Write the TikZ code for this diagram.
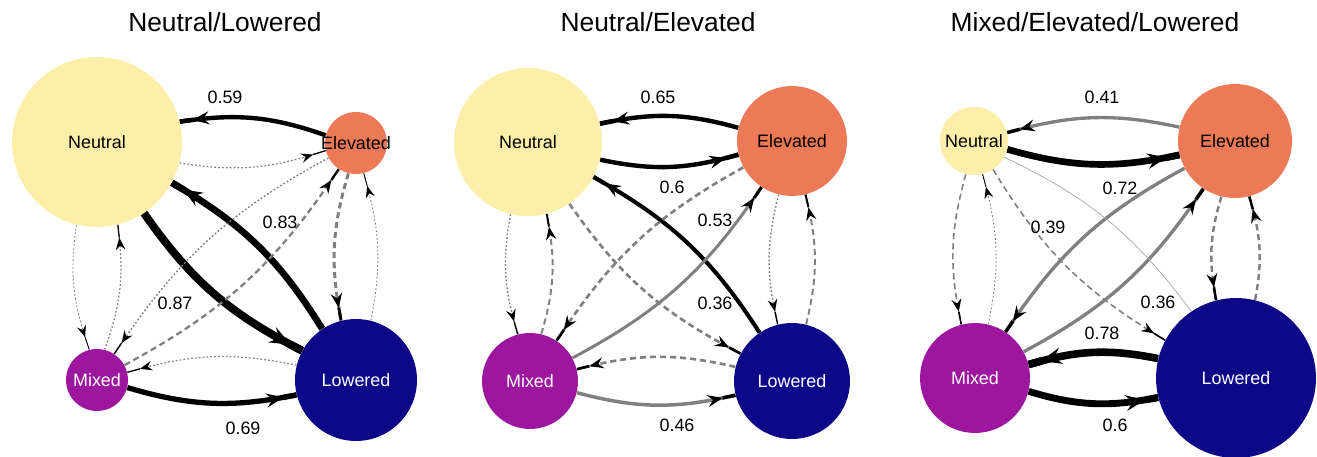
\documentclass[tikz,border=0pt]{standalone}
\usepackage{fontspec}
\setmainfont{Liberation Sans}
\usetikzlibrary{arrows.meta,decorations.markings}
\definecolor{neutralcol}{HTML}{FDEEA9}
\definecolor{elevatedcol}{HTML}{EC7A56}
\definecolor{mixedcol}{HTML}{9C179E}
\definecolor{loweredcol}{HTML}{0D0887}
\definecolor{edgegray}{HTML}{808080}

\tikzset{
  statenode/.style={circle, inner sep=0pt, minimum size=#1*0.04cm, font=\fontsize{10.2}{12}\selectfont},
  weight/.style={font=\fontsize{10.2}{12}\selectfont},
  paneltitle/.style={font=\fontsize{15}{18}\selectfont},
  trans/.style={bend right=14, postaction={decorate},
    decoration={markings, mark=at position -0.26cm with {%
      \arrow{Stealth[length=6pt 1.3, width=4.6pt 1.1, inset=2pt 0.5, color=black]}%
      \pgfpathmoveto{\pgfpointorigin}\pgfpathlineto{\pgfpoint{0.26cm}{0pt}}%
      \pgfsetdash{}{0pt}\pgfsetstrokecolor{black}\pgfusepath{stroke}}}},
  solidblack/.style={trans, draw=black},
  solidgray/.style={trans, draw=edgegray},
  dashgray/.style={trans, draw=edgegray, dash pattern=on 3.5pt off 2.2pt},
  dotgray/.style={trans, draw=edgegray, dash pattern=on 1pt off 1.2pt},
}

\begin{document}
\begin{tikzpicture}[x=0.02cm, y=0.02cm]
    \useasboundingbox (0,0) rectangle (1317,-456);

    % Titles
    \node[paneltitle] (title1) at (225,-22) {Neutral/Lowered};
    \node[paneltitle] (title2) at (658,-22) {Neutral/Elevated};
    \node[paneltitle] (title3) at (1095,-22) {Mixed/Elevated/Lowered};

    % Panel 1: Neutral/Lowered
    \node[statenode=85, fill=neutralcol] (neu1) at (97,-142) {Neutral};
    \node[statenode=31, fill=elevatedcol] (ele1) at (356,-143) {\makebox[0pt]{Elevated}};
    \node[statenode=31, fill=mixedcol, text=white] (mix1) at (97,-380) {Mixed};
    \node[statenode=61, fill=loweredcol, text=white] (low1) at (356,-380) {Lowered};

    \draw[solidblack, line width=2.5pt] (ele1) to (neu1);
    \draw[dotgray, line width=0.7pt] (neu1) to (ele1);
    \draw[solidblack, line width=4.5pt] (neu1) to (low1);
    \draw[solidblack, line width=3.8pt] (low1) to (neu1);
    \draw[dotgray, line width=0.5pt] (neu1) to (mix1);
    \draw[dotgray, line width=0.7pt] (mix1) to (neu1);
    \draw[dotgray, line width=0.8pt] (ele1) to (mix1);
    \draw[dashgray, line width=1.3pt] (mix1) to (ele1);
    \draw[dotgray, line width=0.7pt] (low1) to (mix1);
    \draw[solidblack, line width=3pt] (mix1) to (low1);
    \draw[dashgray, line width=1.7pt] (ele1) to (low1);
    \draw[dotgray, line width=0.5pt] (low1) to (ele1);

    \node[weight] (w1en) at (225,-97) {0.59};
    \node[weight] (w1ln) at (280,-222) {0.83};
    \node[weight] (w1nl) at (175,-303) {0.87};
    \node[weight] (w1ml) at (243,-428) {0.69};

    % Panel 2: Neutral/Elevated
    \node[statenode=74, fill=neutralcol] (neu2) at (528,-142) {Neutral};
    \node[statenode=55, fill=elevatedcol] (ele2) at (792,-141) {Elevated};
    \node[statenode=48, fill=mixedcol, text=white] (mix2) at (530,-381) {Mixed};
    \node[statenode=58, fill=loweredcol, text=white] (low2) at (792,-381) {Lowered};

    \draw[solidblack, line width=2.5pt] (ele2) to (neu2);
    \draw[solidblack, line width=2.5pt] (neu2) to (ele2);
    \draw[solidblack, line width=2.3pt] (low2) to (neu2);
    \draw[dashgray, line width=1.5pt] (neu2) to (low2);
    \draw[solidgray, line width=1.7pt] (mix2) to (ele2);
    \draw[dashgray, line width=1.5pt] (ele2) to (mix2);
    \draw[solidgray, line width=2pt] (mix2) to (low2);
    \draw[dashgray, line width=1.5pt] (low2) to (mix2);
    \draw[dotgray, line width=0.8pt] (neu2) to (mix2);
    \draw[dashgray, line width=1.1pt] (mix2) to (neu2);
    \draw[dotgray, line width=0.8pt] (ele2) to (low2);
    \draw[dashgray, line width=1.1pt] (low2) to (ele2);

    \node[weight] (w2en) at (658,-97) {0.65};
    \node[weight] (w2ne) at (672,-187) {0.6};
    \node[weight] (w2ln) at (715,-220) {0.53};
    \node[weight] (w2me) at (715,-303) {0.36};
    \node[weight] (w2ml) at (677,-425) {0.46};

    % Panel 3: Mixed/Elevated/Lowered
    \node[statenode=34, fill=neutralcol] (neu3) at (974,-141) {Neutral};
    \node[statenode=57, fill=elevatedcol] (ele3) at (1235,-141) {Elevated};
    \node[statenode=55, fill=mixedcol, text=white] (mix3) at (975,-378) {Mixed};
    \node[statenode=80, fill=loweredcol, text=white] (low3) at (1236,-378) {Lowered};

    \draw[solidgray, line width=1.9pt] (ele3) to (neu3);
    \draw[solidblack, line width=3.8pt] (neu3) to (ele3);
    \draw[solidgray, line width=1.9pt] (ele3) to (mix3);
    \draw[solidgray, line width=1.9pt] (mix3) to (ele3);
    \draw[solidblack, line width=4.3pt] (low3) to (mix3);
    \draw[solidblack, line width=3.9pt] (mix3) to (low3);
    \draw[dashgray, line width=0.9pt] (neu3) to (mix3);
    \draw[dotgray, line width=0.5pt] (mix3) to (neu3);
    \draw[dashgray, line width=0.9pt] (neu3) to (low3);
    \draw[edgegray!70, line width=0.4pt, bend right=14] (low3) to (neu3);
    \draw[dashgray, line width=1.4pt] (ele3) to (low3);
    \draw[dashgray, line width=1.4pt] (low3) to (ele3);

    \node[weight] (w3en) at (1102,-97) {0.41};
    \node[weight] (w3ne) at (1120,-188) {0.72};
    \node[weight] (w3nl) at (1048,-227) {0.39};
    \node[weight] (w3me) at (1158,-302) {0.36};
    \node[weight] (w3lm) at (1102,-333) {0.78};
    \node[weight] (w3ml) at (1115,-425) {0.6};
\end{tikzpicture}
\end{document}
